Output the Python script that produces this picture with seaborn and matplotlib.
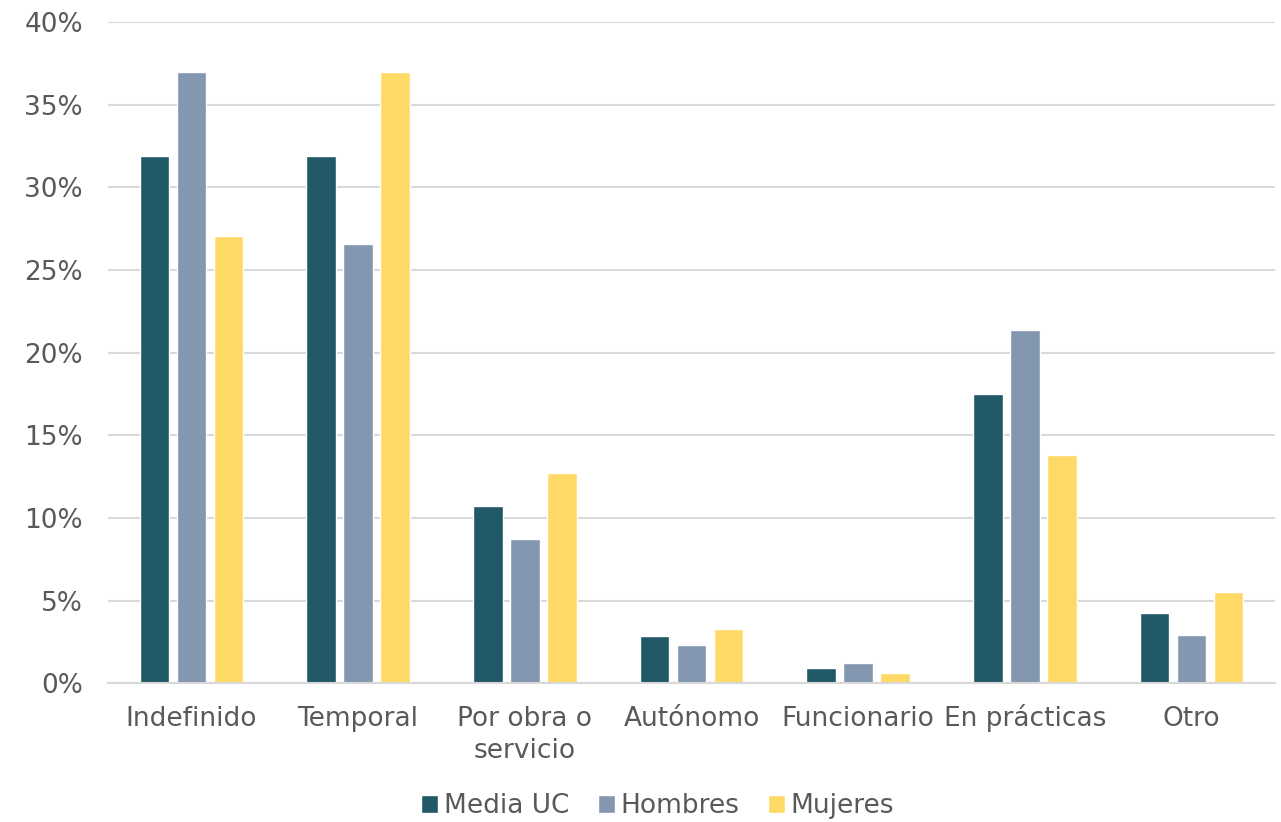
import matplotlib.pyplot as plt
import matplotlib.transforms as mtransforms
import seaborn as sns
import pandas as pd
from matplotlib.ticker import PercentFormatter

categorias = ['Indefinido', 'Temporal', 'Por obra o\nservicio', 'Autónomo',
              'Funcionario', 'En prácticas', 'Otro']
media_uc = [31.9, 31.9, 10.75, 2.85, 0.9, 17.5, 4.25]
hombres = [37.0, 26.6, 8.7, 2.3, 1.2, 21.4, 2.9]
mujeres = [27.05, 37.0, 12.75, 3.3, 0.6, 13.8, 5.55]
series = ['Media UC', 'Hombres', 'Mujeres']
colores = ['#215968', '#8497B0', '#FFD966']

df = pd.DataFrame({
    'categoria': categorias * 3,
    'grupo': [s for s in series for _ in categorias],
    'valor': media_uc + hombres + mujeres,
})

sns.set_theme(style='white')
plt.rcParams['font.family'] = ['DejaVu Sans']
gris = '#595959'
fs = 19

fig = plt.figure(figsize=(12.81, 8.22), dpi=100)
ax = fig.add_axes([108 / 1281, 1 - 683.3 / 822, (1275 - 108) / 1281, (683.3 - 22) / 822])

sns.barplot(data=df, x='categoria', y='valor', hue='grupo', palette=colores,
            saturation=1, width=0.666, gap=0.2, edgecolor='white', linewidth=1, ax=ax)

ax.set_ylim(0, 40)
ax.set_xlim(-0.5, len(categorias) - 0.5)
ax.set_yticks(range(0, 41, 5))
ax.yaxis.set_major_formatter(PercentFormatter(decimals=0))
ax.grid(axis='y', color='#D9D9D9', linewidth=1.5)
ax.set_axisbelow(True)
for s in ['top', 'right', 'left']:
    ax.spines[s].set_visible(False)
ax.spines['bottom'].set_color('#D9D9D9')
ax.spines['bottom'].set_linewidth(1.5)
ax.tick_params(axis='both', length=0, labelsize=fs, colors=gris)
ax.tick_params(axis='y', pad=18)
ax.set_xticks(range(len(categorias)))
ax.set_xticklabels([])
ax.set_xlabel('')
ax.set_ylabel('')

# etiquetas del eje x alineadas por la línea base (como en Excel)
base = mtransforms.blended_transform_factory(ax.transData, ax.transAxes)
for i, cat in enumerate(categorias):
    for k, linea in enumerate(cat.split('\n')):
        off = mtransforms.ScaledTranslation(0, -(30.7 + 23 * k) / 72, fig.dpi_scale_trans)
        ax.text(i, 0, linea, transform=base + off, ha='center', va='baseline',
                fontsize=fs, color=gris)

ax.legend(loc='center', bbox_to_anchor=(0.471, -0.1855), ncol=3, frameon=False,
          fontsize=fs, labelcolor=gris, handlelength=0.65, handleheight=0.65,
          handletextpad=0.2, columnspacing=1.1)

fig.savefig('out.png', dpi=100)
